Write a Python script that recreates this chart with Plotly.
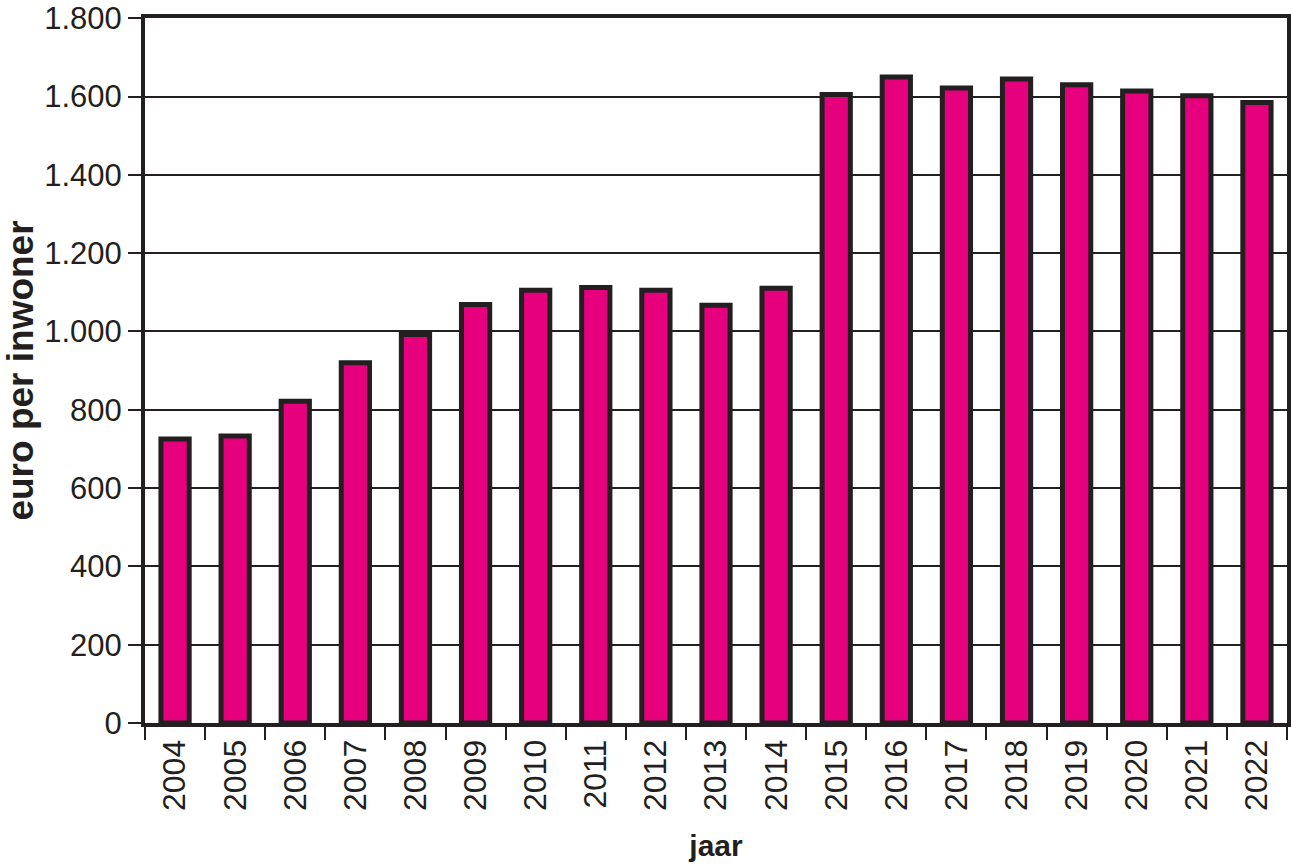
import plotly.graph_objects as go

years = [str(y) for y in range(2004, 2023)]
values = [725, 733, 822, 920, 992, 1069, 1105, 1112, 1105, 1067, 1110,
          1605, 1650, 1622, 1645, 1630, 1614, 1602, 1585]
y_ticks = [0, 200, 400, 600, 800, 1000, 1200, 1400, 1600, 1800]

dark = "#231F20"
fig = go.Figure(go.Bar(
    x=years, y=values,
    marker=dict(color="#E6007E", line=dict(color=dark, width=5)),
))
fig.update_layout(
    width=1291, height=866,
    margin=dict(l=145, r=4, t=18, b=143),
    paper_bgcolor="white", plot_bgcolor="white",
    bargap=0.53,
    separators=",.",
    showlegend=False,
    font=dict(family="Liberation Sans, Arial, sans-serif", color=dark),
)
fig.update_xaxes(
    type="category", tickangle=-90,
    tickfont=dict(size=32), automargin=False,
    ticks="outside", ticklen=13, tickwidth=2, tickcolor=dark,
    tickson="boundaries",
    showline=True, linewidth=4, linecolor=dark, mirror=True,
    showgrid=False,
    title=dict(text="<b>jaar</b>", font=dict(size=30), standoff=26),
)
fig.update_yaxes(
    range=[0, 1800.5], tickvals=y_ticks, tickformat=",",
    tickfont=dict(size=31), ticklabeloverflow="allow", automargin=False,
    ticks="outside", ticklen=13, tickwidth=2, tickcolor=dark,
    showline=True, linewidth=4, linecolor=dark, mirror=True,
    showgrid=True, gridcolor=dark, gridwidth=2,
    zeroline=False,
    title=dict(text="<b>euro per inwoner</b>", font=dict(size=37), standoff=10),
)
fig.write_html("out.html")
